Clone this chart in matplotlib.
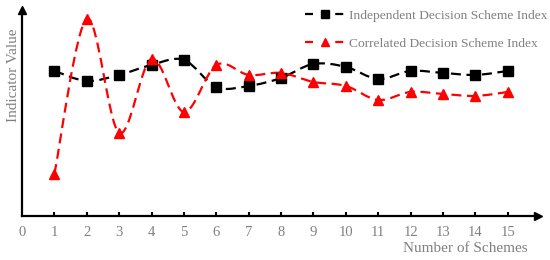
import numpy as np
import matplotlib.pyplot as plt
from matplotlib.path import Path
from matplotlib.patches import PathPatch
from matplotlib.lines import Line2D

schemes = list(range(1, 16))
independent = [0.725, 0.675, 0.705, 0.755, 0.78, 0.645, 0.65, 0.69,
               0.76, 0.745, 0.685, 0.725, 0.715, 0.705, 0.725]
correlated = [0.21, 0.985, 0.415, 0.785, 0.52, 0.755, 0.705, 0.715,
              0.67, 0.65, 0.58, 0.62, 0.61, 0.60, 0.62]
x_ticks = list(range(0, 16))
labels = ['Independent Decision Scheme Index', 'Correlated Decision Scheme Index']

gray = '#808080'
plt.rcParams['font.family'] = ['Liberation Serif', 'DejaVu Serif']


def smooth_path(xs, ys):
    """Catmull-Rom curve through the points, as cubic Bezier segments."""
    pts = np.column_stack([xs, ys]).astype(float)
    verts = [pts[0]]
    codes = [Path.MOVETO]
    n = len(pts)
    for i in range(n - 1):
        p0 = pts[i - 1] if i > 0 else pts[i]
        p1, p2 = pts[i], pts[i + 1]
        p3 = pts[i + 2] if i + 2 < n else pts[i + 1]
        c1 = p1 + (p2 - p0) / 6
        c2 = p2 - (p3 - p1) / 6
        verts += [c1, c2, p2]
        codes += [Path.CURVE4] * 3
    return Path(verts, codes)


fig = plt.figure(figsize=(5.5, 2.6), dpi=100)
ax = fig.add_axes([0.04, 0.169, 0.938, 0.793])

series = [(independent, 'black', 's'), (correlated, 'red', '^')]
for vals, col, mk in series:
    patch = PathPatch(smooth_path(schemes, vals), fill=False, edgecolor=col,
                      lw=1.6, linestyle=(0, (4.5, 2.5)))
    ax.add_patch(patch)
    ax.plot(schemes, vals, linestyle='none', marker=mk, color=col, markersize=6.5)

ax.set_xlim(0, 15.93)
ax.set_ylim(0, 1.03)
ax.set_xticks(x_ticks)
ax.set_xticklabels([str(t) for t in x_ticks], color=gray, fontsize=10.5)
ax.set_yticks([])
ax.tick_params(axis='x', direction='in', length=3, width=1.5, pad=7)
ax.get_xticklines()[0].set_visible(False)
ax.get_xticklines()[1].set_visible(False)

for s in ['top', 'right']:
    ax.spines[s].set_visible(False)
for s in ['left', 'bottom']:
    ax.spines[s].set_linewidth(1.6)
ax.plot(1, 0, '>k', markersize=6, transform=ax.transAxes, clip_on=False)
ax.plot(0, 1, '^k', markersize=6, transform=ax.transAxes, clip_on=False)

fig.text(0.96, 0.03, 'Number of Schemes', color=gray, fontsize=11, ha='right')
fig.text(0.024, 0.71, 'Indicator Value', color=gray, fontsize=11,
         rotation=90, ha='center', va='center')

handles = [Line2D([], [], color=c, lw=1.6, linestyle=(0, (3.6, 10)),
                  marker=m, markersize=5.5) for _, c, m in series]
leg = ax.legend(handles, labels, loc='upper right', bbox_to_anchor=(1.043, 1.06),
                frameon=False, fontsize=9.7, handlelength=3.0, handletextpad=0.3,
                labelspacing=1.15)
for t in leg.get_texts():
    t.set_color(gray)

fig.savefig('out.png', dpi=100)
